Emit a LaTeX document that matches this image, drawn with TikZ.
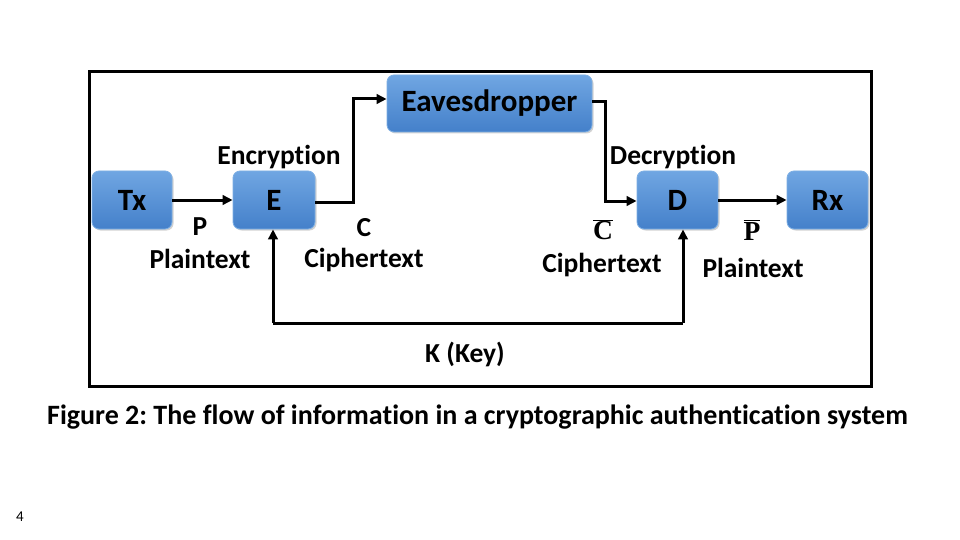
\documentclass[tikz,border=0pt]{standalone}
\usepackage{fontspec}
\setmainfont{Carlito}[Ligatures=NoCommon]
\newfontfamily\serifbf{Liberation Serif}[BoldFont={* Bold}]
\usetikzlibrary{shadows,arrows.meta}
\definecolor{boxtop}{RGB}{112,166,226}
\definecolor{boxbot}{RGB}{68,128,202}
\definecolor{boxline}{RGB}{125,175,228}
\frenchspacing
\tikzset{
  blk/.style={draw=boxline, line width=0.8pt, rounded corners=7pt,
    top color=boxtop, bottom color=boxbot,
    drop shadow={shadow xshift=1.5pt, shadow yshift=-1.5pt, opacity=0.35},
    font=\fontsize{31}{34}\selectfont\bfseries, text=black, inner sep=0pt},
  lbl/.style={font=\fontsize{27.5}{30}\selectfont\bfseries, text=black, inner sep=0pt},
  flow/.style={line width=3pt, -{Triangle[length=10pt,width=9.5pt]}},
}
\begin{document}
\begin{tikzpicture}[x=1pt,y=-1pt]
\useasboundingbox (0,0) rectangle (960,540);
% outer frame
\draw[line width=3pt, drop shadow={shadow xshift=2pt, shadow yshift=-2pt, opacity=0.3}, fill=white] (89,72) rectangle (871,386);
% blocks
\node[blk, minimum width=80pt, minimum height=58pt] (tx) at (132,200) {Tx};
\node[blk, minimum width=82pt, minimum height=58pt] (e) at (274,200) {E};
\node[blk, minimum width=205pt, minimum height=57pt] (ev) at (489.5,103.5) {Eavesdropper};
\node[blk, minimum width=81pt, minimum height=58pt] (d) at (677.5,200) {D};
\node[blk, minimum width=81pt, minimum height=58pt] (rx) at (827.5,200) {Rx};
% connectors
\coordinate (c1) at (353,202);
\coordinate (c2) at (353,99);
\coordinate (c3) at (605,102);
\coordinate (c4) at (605,201);
\coordinate (k1) at (273,323);
\coordinate (k2) at (683,323);
\draw[flow] (tx) -- (e);
\draw[flow] (e.east |- c1) -- (c1) -- (c2) -- (ev.west |- c2);
\draw[flow] (ev.east |- c3) -- (c3) -- (c4) -- (d.west |- c4);
\draw[flow] (d) -- (rx);
\draw[line width=3pt] (k1) -- (k2);
\draw[flow] (k1) -- (e.south -| k1);
\draw[flow] (k2) -- (d.south -| k2);
% labels
\node[lbl] (enc) at (279,157) {Encryption};
\node[lbl] (dec) at (673,157) {Decryption};
\node[lbl] (p) at (200,227) {P};
\node[lbl] (pt1) at (200,259) {Plaintext};
\node[lbl] (c) at (364,228) {C};
\node[lbl] (ct1) at (364,260) {Ciphertext};
\node[lbl] (cb) at (603,230) {$\overline{\mbox{\serifbf\bfseries C}}$};
\node[lbl] (ct2) at (602,265) {Ciphertext};
\node[lbl] (pb) at (752,230) {$\overline{\mbox{\serifbf\bfseries P}}$};
\node[lbl] (pt2) at (753,268) {Plaintext};
\node[lbl] (key) at (465,354) {K (Key)};
\node[font=\fontsize{28}{32}\selectfont\bfseries, inner sep=0pt] (cap) at (477.5,417) {Figure 2: The flow of information in a cryptographic authentication system};
\node[font=\fontsize{15}{17}\selectfont, inner sep=0pt] (pg) at (20,517) {4};
\end{tikzpicture}
\end{document}
